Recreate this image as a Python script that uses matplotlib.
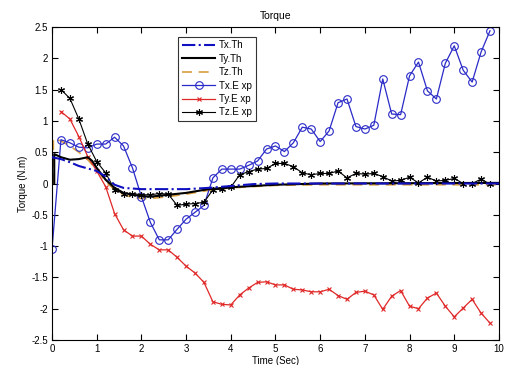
import numpy as np
from matplotlib import pyplot as plt

plt.rcParams['font.family'] = ['Liberation Sans', 'DejaVu Sans']

# experimental samples every 0.2 s
t_exp = [round(0.2 * i, 1) for i in range(50)]
tx_exp = [-1.05, 0.70, 0.65, 0.58, 0.57, 0.63, 0.63, 0.74, 0.60, 0.25,
          -0.21, -0.62, -0.90, -0.90, -0.73, -0.57, -0.46, -0.35, 0.09, 0.23,
          0.23, 0.23, 0.29, 0.36, 0.55, 0.60, 0.51, 0.65, 0.90, 0.87,
          0.67, 0.84, 1.29, 1.35, 0.91, 0.87, 0.93, 1.67, 1.11, 1.10,
          1.72, 1.94, 1.48, 1.35, 1.92, 2.20, 1.81, 1.62, 2.10, 2.44]

t_exp2 = t_exp[1:]
ty_exp = [1.15, 1.03, 0.75, 0.43, 0.20, -0.05, -0.48, -0.74, -0.84,
          -0.84, -0.97, -1.06, -1.06, -1.18, -1.32, -1.43, -1.58, -1.89, -1.93,
          -1.94, -1.78, -1.67, -1.58, -1.57, -1.62, -1.62, -1.69, -1.70, -1.73,
          -1.73, -1.69, -1.79, -1.85, -1.74, -1.72, -1.78, -2.01, -1.80, -1.71,
          -1.96, -2.00, -1.83, -1.75, -1.96, -2.13, -1.99, -1.85, -2.07, -2.23]
tz_exp = [1.50, 1.36, 1.03, 0.63, 0.35, 0.17, -0.10, -0.16, -0.16,
          -0.18, -0.18, -0.16, -0.17, -0.35, -0.33, -0.32, -0.30, -0.10, -0.09,
          -0.06, 0.14, 0.19, 0.23, 0.24, 0.32, 0.32, 0.27, 0.17, 0.14,
          0.16, 0.16, 0.20, 0.09, 0.16, 0.15, 0.16, 0.11, 0.04, 0.05,
          0.10, 0.01, 0.10, 0.04, 0.05, 0.08, 0.00, 0.00, 0.07, -0.01]

# theoretical curves
t_txth = [0, 0.2, 0.4, 0.6, 0.8, 1.0, 1.2, 1.4, 1.6, 2.0, 2.5, 3.0, 3.5, 4.0, 4.5, 5.0, 10]
tx_th = [0.42, 0.39, 0.34, 0.28, 0.24, 0.20, 0.11, -0.02, -0.07, -0.09, -0.09, -0.09,
         -0.07, -0.04, -0.01, 0.0, 0.0]
t_tyth = [0.05, 0.05, 0.2, 0.4, 0.6, 0.8, 0.9, 1.0, 1.2, 1.4, 1.6, 1.8, 2.0, 2.2, 2.6,
          3.0, 3.5, 4.0, 4.5, 5.0, 5.5, 6.0, 10]
ty_th = [0, 0.47, 0.42, 0.38, 0.39, 0.42, 0.36, 0.25, 0.06, -0.07, -0.15, -0.18,
         -0.20, -0.21, -0.18, -0.15, -0.09, -0.06, -0.04, -0.02, -0.01, 0.0, 0.01]
t_tzth = [0.03, 0.03, 0.2, 0.4, 0.6, 0.8, 1.0, 1.2, 1.4, 1.6, 1.8, 2.0, 2.2, 2.6, 3.0,
          3.5, 4.0, 4.5, 5.0, 6.0, 10]
tz_th = [0, 0.72, 0.68, 0.60, 0.50, 0.38, 0.22, 0.03, -0.10, -0.18, -0.22, -0.24,
         -0.24, -0.21, -0.17, -0.11, -0.07, -0.05, -0.03, -0.02, -0.02]

fig = plt.figure(figsize=(5.05, 3.65), dpi=100)
ax = fig.add_axes([0.103, 0.0685, 0.885, 0.8575])

blue = '#2a2ac8'
ax.plot(t_txth, tx_th, '-.', color='#1010c0', lw=1.5, label='Tx.Th', zorder=4)
ax.plot(t_tyth, ty_th, '-', color='black', lw=1.5, label='Ty.Th', zorder=3)
ax.plot(t_tzth, tz_th, '--', color='#d9a040', lw=1.2, dashes=(6, 4), label='Tz.Th', zorder=2)
ax.plot(t_exp, tx_exp, '-o', color=blue, lw=0.9, ms=5.5, mfc='none', mew=0.8,
        label='Tx.E xp')
ax.plot(t_exp2, ty_exp, '-x', color='#e02828', lw=0.9, ms=3.2, mew=0.8,
        label='Ty.E xp')
ax.plot(t_exp2, tz_exp, '-', marker=(6, 2, 0), color='black', lw=0.8, ms=5, mew=0.8,
        label='Tz.E xp')

ax.set_xlim(0, 10)
ax.set_ylim(-2.5, 2.5)
ax.set_xticks(np.arange(0, 11, 1))
ax.set_yticks(np.arange(-2.5, 2.51, 0.5))
ax.set_yticklabels(['-2.5', '-2', '-1.5', '-1', '-0.5', '0', '0.5', '1', '1.5', '2', '2.5'])
ax.tick_params(direction='in', top=True, right=True, length=4, labelsize=7, pad=3)
ax.set_title('Torque', fontsize=7.5, pad=6)
ax.set_xlabel('Time (Sec)', fontsize=7, labelpad=1)
ax.set_ylabel('Torque (N.m)', fontsize=7, labelpad=2)

leg = ax.legend(loc='upper left', bbox_to_anchor=(0.272, 0.985), fontsize=7,
                frameon=True, fancybox=False, edgecolor='black', handlelength=3.4,
                borderpad=0.4, labelspacing=0.35, handletextpad=0.4)
leg.get_frame().set_linewidth(0.8)

fig.savefig('out.png', dpi=100)
